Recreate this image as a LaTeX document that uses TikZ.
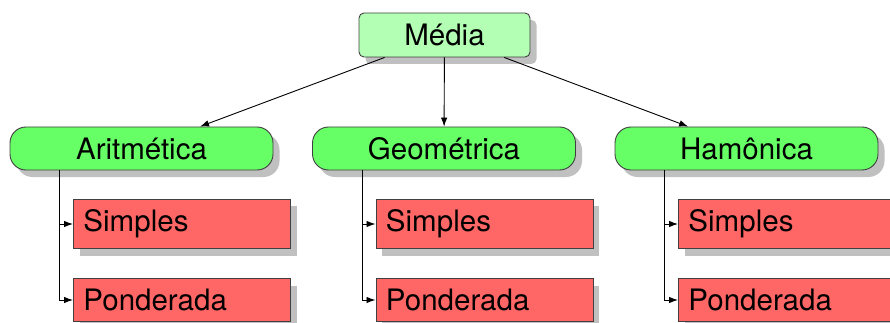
\documentclass[tikz,border=0pt]{standalone}
\usepackage{fontspec}
\setmainfont{TeX Gyre Heros}
\usetikzlibrary{arrows.meta, positioning, shadows}

\definecolor{topgreen}{HTML}{B3FFB3}
\definecolor{kindgreen}{HTML}{66FF66}
\definecolor{leafred}{HTML}{FF6666}
\definecolor{shadowgray}{HTML}{C0C0C0}

\tikzset{
  boxshadow/.style={drop shadow={shadow xshift=6.5pt, shadow yshift=-7pt, fill=shadowgray, opacity=1}},
  basebox/.style={draw=black!75, line width=0.9pt, boxshadow,
    font=\fontsize{29.5}{35}\selectfont},
  topbox/.style={basebox, fill=topgreen, rounded corners=5pt,
    minimum width=171pt, minimum height=44pt},
  kindbox/.style={basebox, fill=kindgreen, rounded corners=16pt,
    minimum width=263pt, minimum height=43pt},
  leafbox/.style={basebox, fill=leafred, text width=197pt, align=left,
    inner xsep=10pt, inner ysep=10.5pt, anchor=west},
}

\begin{document}
\begin{tikzpicture}[x=1pt, y=-1pt, line width=0.9pt,
  >={Latex[length=9pt,width=6.5pt]}]

\useasboundingbox (0,0) rectangle (890,323);

% Root
\node[topbox] (media) at (444.5,35) {Média};

% Kinds of mean, each with its two variants
\foreach \name/\kind/\cx in {arit/Aritmética/141.5, geom/Geométrica/444, harm/Hamônica/746.5} {
  \node[kindbox] (\name) at (\cx,148.5) {\kind};
  \node[leafbox] (\name-s) at (\cx-68.5,224) {Simples};
  \node[leafbox] (\name-p) at (\cx-68.5,300) {Ponderada};

  \draw[->] ([xshift=50pt]\name.south west) |- (\name-s.west);
  \draw[->] ([xshift=50pt]\name.south west) |- (\name-p.west);

  \draw[->] (media) -- (\name);
}

\end{tikzpicture}
\end{document}
